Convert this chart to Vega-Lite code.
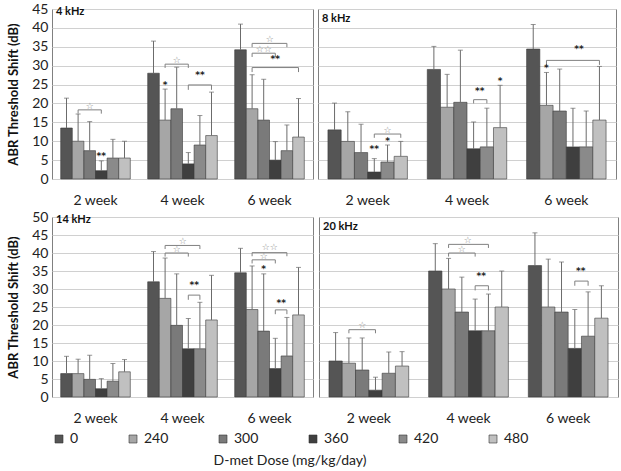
{
  "$schema": "https://vega.github.io/schema/vega-lite/v6.json",
  "padding": {"left": 7, "top": 1, "right": 5, "bottom": 5},
  "background": "white",
  "datasets": {
    "bars": [
      {"f": "4 kHz", "w": "2 week", "d": "0", "m": 13.5, "h": 21.4},
      {"f": "4 kHz", "w": "2 week", "d": "240", "m": 10.0, "h": 17.2},
      {"f": "4 kHz", "w": "2 week", "d": "300", "m": 7.5, "h": 15.2},
      {"f": "4 kHz", "w": "2 week", "d": "360", "m": 2.2, "h": 4.8},
      {"f": "4 kHz", "w": "2 week", "d": "420", "m": 5.55, "h": 10.5},
      {"f": "4 kHz", "w": "2 week", "d": "480", "m": 5.55, "h": 10.0},
      {"f": "4 kHz", "w": "4 week", "d": "0", "m": 28.0, "h": 36.5},
      {"f": "4 kHz", "w": "4 week", "d": "240", "m": 15.6, "h": 23.8},
      {"f": "4 kHz", "w": "4 week", "d": "300", "m": 18.6, "h": 29.6},
      {"f": "4 kHz", "w": "4 week", "d": "360", "m": 4.0, "h": 7.0},
      {"f": "4 kHz", "w": "4 week", "d": "420", "m": 9.0, "h": 16.8},
      {"f": "4 kHz", "w": "4 week", "d": "480", "m": 11.5, "h": 23.0},
      {"f": "4 kHz", "w": "6 week", "d": "0", "m": 34.2, "h": 41.0},
      {"f": "4 kHz", "w": "6 week", "d": "240", "m": 18.6, "h": 27.6},
      {"f": "4 kHz", "w": "6 week", "d": "300", "m": 15.6, "h": 26.4},
      {"f": "4 kHz", "w": "6 week", "d": "360", "m": 5.0, "h": 9.9},
      {"f": "4 kHz", "w": "6 week", "d": "420", "m": 7.5, "h": 14.3},
      {"f": "4 kHz", "w": "6 week", "d": "480", "m": 11.1, "h": 21.3},
      {"f": "8 kHz", "w": "2 week", "d": "0", "m": 13.0, "h": 20.1},
      {"f": "8 kHz", "w": "2 week", "d": "240", "m": 9.95, "h": 17.8},
      {"f": "8 kHz", "w": "2 week", "d": "300", "m": 7.0, "h": 14.5},
      {"f": "8 kHz", "w": "2 week", "d": "360", "m": 1.85, "h": 5.4},
      {"f": "8 kHz", "w": "2 week", "d": "420", "m": 4.5, "h": 9.0},
      {"f": "8 kHz", "w": "2 week", "d": "480", "m": 6.0, "h": 9.95},
      {"f": "8 kHz", "w": "4 week", "d": "0", "m": 29.0, "h": 35.1},
      {"f": "8 kHz", "w": "4 week", "d": "240", "m": 19.0, "h": 27.7},
      {"f": "8 kHz", "w": "4 week", "d": "300", "m": 20.3, "h": 34.1},
      {"f": "8 kHz", "w": "4 week", "d": "360", "m": 8.0, "h": 15.1},
      {"f": "8 kHz", "w": "4 week", "d": "420", "m": 8.5, "h": 18.75},
      {"f": "8 kHz", "w": "4 week", "d": "480", "m": 13.6, "h": 24.8},
      {"f": "8 kHz", "w": "6 week", "d": "0", "m": 34.4, "h": 40.9},
      {"f": "8 kHz", "w": "6 week", "d": "240", "m": 19.5, "h": 28.2},
      {"f": "8 kHz", "w": "6 week", "d": "300", "m": 18.0, "h": 29.1},
      {"f": "8 kHz", "w": "6 week", "d": "360", "m": 8.5, "h": 18.75},
      {"f": "8 kHz", "w": "6 week", "d": "420", "m": 8.5, "h": 18.0},
      {"f": "8 kHz", "w": "6 week", "d": "480", "m": 15.6, "h": 29.8},
      {"f": "14 kHz", "w": "2 week", "d": "0", "m": 6.5, "h": 11.3},
      {"f": "14 kHz", "w": "2 week", "d": "240", "m": 6.5, "h": 10.5},
      {"f": "14 kHz", "w": "2 week", "d": "300", "m": 4.9, "h": 11.6},
      {"f": "14 kHz", "w": "2 week", "d": "360", "m": 2.3, "h": 5.1},
      {"f": "14 kHz", "w": "2 week", "d": "420", "m": 4.4, "h": 9.3},
      {"f": "14 kHz", "w": "2 week", "d": "480", "m": 7.0, "h": 10.4},
      {"f": "14 kHz", "w": "4 week", "d": "0", "m": 32.0, "h": 40.4},
      {"f": "14 kHz", "w": "4 week", "d": "240", "m": 27.4, "h": 38.6},
      {"f": "14 kHz", "w": "4 week", "d": "300", "m": 19.9, "h": 34.2},
      {"f": "14 kHz", "w": "4 week", "d": "360", "m": 13.4, "h": 21.8},
      {"f": "14 kHz", "w": "4 week", "d": "420", "m": 13.4, "h": 26.3},
      {"f": "14 kHz", "w": "4 week", "d": "480", "m": 21.4, "h": 33.8},
      {"f": "14 kHz", "w": "6 week", "d": "0", "m": 34.5, "h": 41.3},
      {"f": "14 kHz", "w": "6 week", "d": "240", "m": 24.3, "h": 36.4},
      {"f": "14 kHz", "w": "6 week", "d": "300", "m": 18.3, "h": 34.2},
      {"f": "14 kHz", "w": "6 week", "d": "360", "m": 7.9, "h": 16.3},
      {"f": "14 kHz", "w": "6 week", "d": "420", "m": 11.4, "h": 22.1},
      {"f": "14 kHz", "w": "6 week", "d": "480", "m": 22.8, "h": 36.0},
      {"f": "20 kHz", "w": "2 week", "d": "0", "m": 10.0, "h": 17.9},
      {"f": "20 kHz", "w": "2 week", "d": "240", "m": 9.4, "h": 16.4},
      {"f": "20 kHz", "w": "2 week", "d": "300", "m": 7.5, "h": 16.4},
      {"f": "20 kHz", "w": "2 week", "d": "360", "m": 1.9, "h": 5.5},
      {"f": "20 kHz", "w": "2 week", "d": "420", "m": 6.6, "h": 12.5},
      {"f": "20 kHz", "w": "2 week", "d": "480", "m": 8.6, "h": 12.6},
      {"f": "20 kHz", "w": "4 week", "d": "0", "m": 35.0, "h": 42.6},
      {"f": "20 kHz", "w": "4 week", "d": "240", "m": 30.0, "h": 38.5},
      {"f": "20 kHz", "w": "4 week", "d": "300", "m": 23.6, "h": 33.3},
      {"f": "20 kHz", "w": "4 week", "d": "360", "m": 18.4, "h": 27.2},
      {"f": "20 kHz", "w": "4 week", "d": "420", "m": 18.4, "h": 28.6},
      {"f": "20 kHz", "w": "4 week", "d": "480", "m": 25.0, "h": 35.0},
      {"f": "20 kHz", "w": "6 week", "d": "0", "m": 36.5, "h": 45.6},
      {"f": "20 kHz", "w": "6 week", "d": "240", "m": 25.0, "h": 38.3},
      {"f": "20 kHz", "w": "6 week", "d": "300", "m": 23.6, "h": 37.5},
      {"f": "20 kHz", "w": "6 week", "d": "360", "m": 13.5, "h": 24.3},
      {"f": "20 kHz", "w": "6 week", "d": "420", "m": 16.9, "h": 29.2},
      {"f": "20 kHz", "w": "6 week", "d": "480", "m": 21.9, "h": 30.9}
    ],
    "br": [
      {"f": "4 kHz", "w": "2 week", "id": "A", "o": 1, "d": "240", "y": 17.3},
      {"f": "4 kHz", "w": "2 week", "id": "A", "o": 2, "d": "240", "y": 18.3},
      {"f": "4 kHz", "w": "2 week", "id": "A", "o": 3, "d": "360", "y": 18.3},
      {"f": "4 kHz", "w": "2 week", "id": "A", "o": 4, "d": "360", "y": 17.3},
      {"f": "4 kHz", "w": "4 week", "id": "B", "o": 1, "d": "240", "y": 29.4},
      {"f": "4 kHz", "w": "4 week", "id": "B", "o": 2, "d": "240", "y": 30.4},
      {"f": "4 kHz", "w": "4 week", "id": "B", "o": 3, "d": "360", "y": 30.4},
      {"f": "4 kHz", "w": "4 week", "id": "B", "o": 4, "d": "360", "y": 29.4},
      {"f": "4 kHz", "w": "4 week", "id": "C", "o": 1, "d": "360", "y": 23.6},
      {"f": "4 kHz", "w": "4 week", "id": "C", "o": 2, "d": "360", "y": 24.9},
      {"f": "4 kHz", "w": "4 week", "id": "C", "o": 3, "d": "480", "y": 24.9},
      {"f": "4 kHz", "w": "4 week", "id": "C", "o": 4, "d": "480", "y": 23.6},
      {"f": "4 kHz", "w": "6 week", "id": "D", "o": 1, "d": "240", "y": 34.9},
      {"f": "4 kHz", "w": "6 week", "id": "D", "o": 2, "d": "240", "y": 35.9},
      {"f": "4 kHz", "w": "6 week", "id": "D", "o": 3, "d": "420", "y": 35.9},
      {"f": "4 kHz", "w": "6 week", "id": "D", "o": 4, "d": "420", "y": 34.9},
      {"f": "4 kHz", "w": "6 week", "id": "E", "o": 1, "d": "240", "y": 32.3},
      {"f": "4 kHz", "w": "6 week", "id": "E", "o": 2, "d": "240", "y": 33.3},
      {"f": "4 kHz", "w": "6 week", "id": "E", "o": 3, "d": "360", "y": 33.3},
      {"f": "4 kHz", "w": "6 week", "id": "E", "o": 4, "d": "360", "y": 32.3},
      {"f": "4 kHz", "w": "6 week", "id": "F", "o": 1, "d": "240", "y": 28.3},
      {"f": "4 kHz", "w": "6 week", "id": "F", "o": 2, "d": "240", "y": 29.5},
      {"f": "4 kHz", "w": "6 week", "id": "F", "o": 3, "d": "480", "y": 29.5},
      {"f": "4 kHz", "w": "6 week", "id": "F", "o": 4, "d": "480", "y": 28.3},
      {"f": "8 kHz", "w": "2 week", "id": "G", "o": 1, "d": "360", "y": 10.9},
      {"f": "8 kHz", "w": "2 week", "id": "G", "o": 2, "d": "360", "y": 11.9},
      {"f": "8 kHz", "w": "2 week", "id": "G", "o": 3, "d": "480", "y": 11.9},
      {"f": "8 kHz", "w": "2 week", "id": "G", "o": 4, "d": "480", "y": 10.9},
      {"f": "8 kHz", "w": "4 week", "id": "H", "o": 1, "d": "360", "y": 20.0},
      {"f": "8 kHz", "w": "4 week", "id": "H", "o": 2, "d": "360", "y": 21.0},
      {"f": "8 kHz", "w": "4 week", "id": "H", "o": 3, "d": "420", "y": 21.0},
      {"f": "8 kHz", "w": "4 week", "id": "H", "o": 4, "d": "420", "y": 20.0},
      {"f": "8 kHz", "w": "6 week", "id": "I", "o": 1, "d": "240", "y": 30.2},
      {"f": "8 kHz", "w": "6 week", "id": "I", "o": 2, "d": "240", "y": 31.4},
      {"f": "8 kHz", "w": "6 week", "id": "I", "o": 3, "d": "480", "y": 31.4},
      {"f": "8 kHz", "w": "6 week", "id": "I", "o": 4, "d": "480", "y": 30.2},
      {"f": "14 kHz", "w": "4 week", "id": "J", "o": 1, "d": "240", "y": 41.1},
      {"f": "14 kHz", "w": "4 week", "id": "J", "o": 2, "d": "240", "y": 42.1},
      {"f": "14 kHz", "w": "4 week", "id": "J", "o": 3, "d": "420", "y": 42.1},
      {"f": "14 kHz", "w": "4 week", "id": "J", "o": 4, "d": "420", "y": 41.1},
      {"f": "14 kHz", "w": "4 week", "id": "K", "o": 1, "d": "240", "y": 39.0},
      {"f": "14 kHz", "w": "4 week", "id": "K", "o": 2, "d": "240", "y": 40.0},
      {"f": "14 kHz", "w": "4 week", "id": "K", "o": 3, "d": "360", "y": 40.0},
      {"f": "14 kHz", "w": "4 week", "id": "K", "o": 4, "d": "360", "y": 39.0},
      {"f": "14 kHz", "w": "4 week", "id": "L", "o": 1, "d": "360", "y": 27.0},
      {"f": "14 kHz", "w": "4 week", "id": "L", "o": 2, "d": "360", "y": 28.3},
      {"f": "14 kHz", "w": "4 week", "id": "L", "o": 3, "d": "420", "y": 28.3},
      {"f": "14 kHz", "w": "4 week", "id": "L", "o": 4, "d": "420", "y": 27.0},
      {"f": "14 kHz", "w": "6 week", "id": "M", "o": 1, "d": "240", "y": 39.1},
      {"f": "14 kHz", "w": "6 week", "id": "M", "o": 2, "d": "240", "y": 40.1},
      {"f": "14 kHz", "w": "6 week", "id": "M", "o": 3, "d": "420", "y": 40.1},
      {"f": "14 kHz", "w": "6 week", "id": "M", "o": 4, "d": "420", "y": 39.1},
      {"f": "14 kHz", "w": "6 week", "id": "N", "o": 1, "d": "240", "y": 37.1},
      {"f": "14 kHz", "w": "6 week", "id": "N", "o": 2, "d": "240", "y": 38.1},
      {"f": "14 kHz", "w": "6 week", "id": "N", "o": 3, "d": "360", "y": 38.1},
      {"f": "14 kHz", "w": "6 week", "id": "N", "o": 4, "d": "360", "y": 37.1},
      {"f": "14 kHz", "w": "6 week", "id": "O", "o": 1, "d": "360", "y": 23.0},
      {"f": "14 kHz", "w": "6 week", "id": "O", "o": 2, "d": "360", "y": 24.2},
      {"f": "14 kHz", "w": "6 week", "id": "O", "o": 3, "d": "420", "y": 24.2},
      {"f": "14 kHz", "w": "6 week", "id": "O", "o": 4, "d": "420", "y": 23.0},
      {"f": "20 kHz", "w": "2 week", "id": "P", "o": 1, "d": "240", "y": 17.7},
      {"f": "20 kHz", "w": "2 week", "id": "P", "o": 2, "d": "240", "y": 18.7},
      {"f": "20 kHz", "w": "2 week", "id": "P", "o": 3, "d": "360", "y": 18.7},
      {"f": "20 kHz", "w": "2 week", "id": "P", "o": 4, "d": "360", "y": 17.7},
      {"f": "20 kHz", "w": "4 week", "id": "Q", "o": 1, "d": "240", "y": 41.4},
      {"f": "20 kHz", "w": "4 week", "id": "Q", "o": 2, "d": "240", "y": 42.4},
      {"f": "20 kHz", "w": "4 week", "id": "Q", "o": 3, "d": "420", "y": 42.4},
      {"f": "20 kHz", "w": "4 week", "id": "Q", "o": 4, "d": "420", "y": 41.4},
      {"f": "20 kHz", "w": "4 week", "id": "R", "o": 1, "d": "240", "y": 39.0},
      {"f": "20 kHz", "w": "4 week", "id": "R", "o": 2, "d": "240", "y": 40.0},
      {"f": "20 kHz", "w": "4 week", "id": "R", "o": 3, "d": "360", "y": 40.0},
      {"f": "20 kHz", "w": "4 week", "id": "R", "o": 4, "d": "360", "y": 39.0},
      {"f": "20 kHz", "w": "4 week", "id": "S", "o": 1, "d": "360", "y": 29.6},
      {"f": "20 kHz", "w": "4 week", "id": "S", "o": 2, "d": "360", "y": 30.9},
      {"f": "20 kHz", "w": "4 week", "id": "S", "o": 3, "d": "420", "y": 30.9},
      {"f": "20 kHz", "w": "4 week", "id": "S", "o": 4, "d": "420", "y": 29.6},
      {"f": "20 kHz", "w": "6 week", "id": "T", "o": 1, "d": "360", "y": 30.9},
      {"f": "20 kHz", "w": "6 week", "id": "T", "o": 2, "d": "360", "y": 32.2},
      {"f": "20 kHz", "w": "6 week", "id": "T", "o": 3, "d": "420", "y": 32.2},
      {"f": "20 kHz", "w": "6 week", "id": "T", "o": 4, "d": "420", "y": 30.9}
    ],
    "st": [
      {"f": "4 kHz", "w": "2 week", "d": "300", "y": 19.4, "s": "☆", "b": false},
      {"f": "4 kHz", "w": "2 week", "d": "360", "y": 6.0, "s": "**", "b": false},
      {"f": "4 kHz", "w": "4 week", "d": "240", "y": 25.0, "s": "*", "b": false},
      {"f": "4 kHz", "w": "4 week", "d": "300", "y": 31.4, "s": "☆", "b": false},
      {"f": "4 kHz", "w": "4 week", "d": "420", "y": 27.6, "s": "**", "b": false},
      {"f": "4 kHz", "w": "6 week", "d": "300", "y": 37.1, "s": "☆", "b": true},
      {"f": "4 kHz", "w": "6 week", "d": "300", "y": 34.4, "s": "☆☆", "b": false},
      {"f": "4 kHz", "w": "6 week", "d": "360", "y": 31.8, "s": "**", "b": false},
      {"f": "8 kHz", "w": "2 week", "d": "360", "y": 8.0, "s": "**", "b": false},
      {"f": "8 kHz", "w": "2 week", "d": "420", "y": 10.0, "s": "*", "b": false},
      {"f": "8 kHz", "w": "2 week", "d": "420", "y": 13.0, "s": "☆", "b": false},
      {"f": "8 kHz", "w": "4 week", "d": "360", "y": 23.4, "s": "**", "b": true},
      {"f": "8 kHz", "w": "4 week", "d": "480", "y": 26.0, "s": "*", "b": false},
      {"f": "8 kHz", "w": "6 week", "d": "240", "y": 29.5, "s": "*", "b": false},
      {"f": "8 kHz", "w": "6 week", "d": "360", "y": 34.3, "s": "**", "b": true},
      {"f": "14 kHz", "w": "4 week", "d": "300", "y": 43.4, "s": "☆", "b": true},
      {"f": "14 kHz", "w": "4 week", "d": "300", "y": 41.0, "s": "☆", "b": false},
      {"f": "14 kHz", "w": "4 week", "d": "360", "y": 31.0, "s": "**", "b": true},
      {"f": "14 kHz", "w": "6 week", "d": "300", "y": 41.6, "s": "☆☆", "b": true},
      {"f": "14 kHz", "w": "6 week", "d": "300", "y": 39.2, "s": "☆", "b": false},
      {"f": "14 kHz", "w": "6 week", "d": "300", "y": 35.5, "s": "*", "b": false},
      {"f": "14 kHz", "w": "6 week", "d": "360", "y": 26.0, "s": "**", "b": true},
      {"f": "20 kHz", "w": "2 week", "d": "300", "y": 19.9, "s": "☆", "b": false},
      {"f": "20 kHz", "w": "4 week", "d": "300", "y": 43.5, "s": "☆", "b": true},
      {"f": "20 kHz", "w": "4 week", "d": "300", "y": 41.0, "s": "☆", "b": false},
      {"f": "20 kHz", "w": "4 week", "d": "360", "y": 33.7, "s": "**", "b": true},
      {"f": "20 kHz", "w": "6 week", "d": "360", "y": 34.9, "s": "**", "b": true}
    ]
  },
  "config": {
    "font": "Lato",
    "view": {"stroke": "#808080", "strokeWidth": 1},
    "axis": {"labelFont": "Lato", "labelFontSize": 14, "labelColor": "#222222", "titleFont": "Lato", "gridColor": "#d0d0d0", "domain": false, "ticks": false},
    "axisY": {"grid": true, "titleFontSize": 13, "titleFontWeight": "bold", "titleColor": "#111111", "labelPadding": 4, "titlePadding": 11},
    "legend": {"orient": "bottom", "direction": "horizontal", "symbolType": "square", "symbolSize": 64, "symbolStrokeColor": "#333333", "symbolStrokeWidth": 0.6, "labelFont": "Lato", "labelFontSize": 14, "labelColor": "#222222", "titleOrient": "bottom", "titleAnchor": "middle", "titleFont": "Lato", "titleFontSize": 14, "titleFontWeight": "normal", "titleColor": "#222222", "titlePadding": 8, "offset": 6},
    "title": {"anchor": "start", "frame": "group", "font": "Lato", "fontSize": 11, "fontWeight": "bold", "color": "#111111", "offset": -15, "dx": 4}
  },
  "resolve": {"scale": {"xOffset": "independent"}},
  "spacing": 1,
  "vconcat": [
    {
      "resolve": {"scale": {"xOffset": "independent"}},
      "spacing": 3,
      "hconcat": [
        {
          "width": 261, "height": 170,
          "title": {"text": "4 kHz"},
          "encoding": {
            "x": {"field": "w", "type": "nominal", "title": null, "scale": {"paddingInner": 0.2, "paddingOuter": 0.1}, "axis": {"labelAngle": 0, "labelPadding": 14}},
            "xOffset": {"field": "d", "type": "nominal", "scale": {"domain": ["0", "240", "300", "360", "420", "480"]}}
          },
          "layer": [
            {"data": {"name": "bars"}, "transform": [{"filter": "datum.f == '4 kHz'"}],
             "mark": {"type": "bar", "stroke": "#3a3a3a", "strokeWidth": 0.6},
             "encoding": {
               "y": {"field": "m", "type": "quantitative", "scale": {"domain": [0, 45], "nice": false}, "axis": {"values": [0,5,10,15,20,25,30,35,40,45], "title": "ABR Threshold Shift (dB)"}},
               "color": {"field": "d", "type": "nominal", "title": "D-met Dose (mg/kg/day)", "scale": {"domain": ["0", "240", "300", "360", "420", "480"], "range": ["#555555", "#a6a6a6", "#7a7a7a", "#3f3f3f", "#8a8a8a", "#c0c0c0"]}, "legend": {"columns": 6, "gridAlign": "each", "columnPadding": 47}}
             }},
            {"data": {"name": "bars"}, "transform": [{"filter": "datum.f == '4 kHz'"}],
             "mark": {"type": "rule", "color": "#6b6b6b", "strokeWidth": 1},
             "encoding": {"y": {"field": "m", "type": "quantitative", "axis": {"values": [0,5,10,15,20,25,30,35,40,45], "title": "ABR Threshold Shift (dB)"}}, "y2": {"field": "h"}}},
            {"data": {"name": "bars"}, "transform": [{"filter": "datum.f == '4 kHz'"}],
             "mark": {"type": "tick", "color": "#6b6b6b", "size": 5, "thickness": 1, "orient": "horizontal"},
             "encoding": {"y": {"field": "h", "type": "quantitative", "axis": {"values": [0,5,10,15,20,25,30,35,40,45], "title": "ABR Threshold Shift (dB)"}}}},
            {"data": {"name": "br"}, "transform": [{"filter": "datum.f == '4 kHz'"}],
             "mark": {"type": "line", "color": "#808080", "strokeWidth": 1},
             "encoding": {"y": {"field": "y", "type": "quantitative", "axis": {"values": [0,5,10,15,20,25,30,35,40,45], "title": "ABR Threshold Shift (dB)"}}, "detail": {"field": "id"}, "order": {"field": "o"}}},
            {"data": {"name": "st"}, "transform": [{"filter": "datum.f == '4 kHz' && !datum.b"}],
             "mark": {"type": "text", "font": "DejaVu Sans", "fontSize": 9, "fontWeight": "bold", "baseline": "middle"},
             "encoding": {"y": {"field": "y", "type": "quantitative", "axis": {"values": [0,5,10,15,20,25,30,35,40,45], "title": "ABR Threshold Shift (dB)"}}, "text": {"field": "s"}, "color": {"condition": {"test": "datum.s == '*' || datum.s == '**'", "value": "#222222"}, "value": "#8a8a8a"}}},
            {"data": {"name": "st"}, "transform": [{"filter": "datum.f == '4 kHz' && datum.b"}],
             "mark": {"type": "text", "font": "DejaVu Sans", "fontSize": 9, "fontWeight": "bold", "baseline": "middle", "dx": 6},
             "encoding": {"y": {"field": "y", "type": "quantitative", "axis": {"values": [0,5,10,15,20,25,30,35,40,45], "title": "ABR Threshold Shift (dB)"}}, "text": {"field": "s"}, "color": {"condition": {"test": "datum.s == '*' || datum.s == '**'", "value": "#222222"}, "value": "#8a8a8a"}}}
          ]
        },
        {
          "width": 298, "height": 170,
          "title": {"text": "8 kHz"},
          "encoding": {
            "x": {"field": "w", "type": "nominal", "title": null, "scale": {"paddingInner": 0.2, "paddingOuter": 0.1}, "axis": {"labelAngle": 0, "labelPadding": 14}},
            "xOffset": {"field": "d", "type": "nominal", "scale": {"domain": ["0", "240", "300", "360", "420", "480"]}}
          },
          "layer": [
            {"data": {"name": "bars"}, "transform": [{"filter": "datum.f == '8 kHz'"}],
             "mark": {"type": "bar", "stroke": "#3a3a3a", "strokeWidth": 0.6},
             "encoding": {
               "y": {"field": "m", "type": "quantitative", "scale": {"domain": [0, 45], "nice": false}, "axis": {"values": [0,5,10,15,20,25,30,35,40,45], "title": null, "labels": false}},
               "color": {"field": "d", "type": "nominal", "title": "D-met Dose (mg/kg/day)", "scale": {"domain": ["0", "240", "300", "360", "420", "480"], "range": ["#555555", "#a6a6a6", "#7a7a7a", "#3f3f3f", "#8a8a8a", "#c0c0c0"]}, "legend": {"columns": 6, "gridAlign": "each", "columnPadding": 47}}
             }},
            {"data": {"name": "bars"}, "transform": [{"filter": "datum.f == '8 kHz'"}],
             "mark": {"type": "rule", "color": "#6b6b6b", "strokeWidth": 1},
             "encoding": {"y": {"field": "m", "type": "quantitative", "axis": {"values": [0,5,10,15,20,25,30,35,40,45], "title": null, "labels": false}}, "y2": {"field": "h"}}},
            {"data": {"name": "bars"}, "transform": [{"filter": "datum.f == '8 kHz'"}],
             "mark": {"type": "tick", "color": "#6b6b6b", "size": 5, "thickness": 1, "orient": "horizontal"},
             "encoding": {"y": {"field": "h", "type": "quantitative", "axis": {"values": [0,5,10,15,20,25,30,35,40,45], "title": null, "labels": false}}}},
            {"data": {"name": "br"}, "transform": [{"filter": "datum.f == '8 kHz'"}],
             "mark": {"type": "line", "color": "#808080", "strokeWidth": 1},
             "encoding": {"y": {"field": "y", "type": "quantitative", "axis": {"values": [0,5,10,15,20,25,30,35,40,45], "title": null, "labels": false}}, "detail": {"field": "id"}, "order": {"field": "o"}}},
            {"data": {"name": "st"}, "transform": [{"filter": "datum.f == '8 kHz' && !datum.b"}],
             "mark": {"type": "text", "font": "DejaVu Sans", "fontSize": 9, "fontWeight": "bold", "baseline": "middle"},
             "encoding": {"y": {"field": "y", "type": "quantitative", "axis": {"values": [0,5,10,15,20,25,30,35,40,45], "title": null, "labels": false}}, "text": {"field": "s"}, "color": {"condition": {"test": "datum.s == '*' || datum.s == '**'", "value": "#222222"}, "value": "#8a8a8a"}}},
            {"data": {"name": "st"}, "transform": [{"filter": "datum.f == '8 kHz' && datum.b"}],
             "mark": {"type": "text", "font": "DejaVu Sans", "fontSize": 9, "fontWeight": "bold", "baseline": "middle", "dx": 6},
             "encoding": {"y": {"field": "y", "type": "quantitative", "axis": {"values": [0,5,10,15,20,25,30,35,40,45], "title": null, "labels": false}}, "text": {"field": "s"}, "color": {"condition": {"test": "datum.s == '*' || datum.s == '**'", "value": "#222222"}, "value": "#8a8a8a"}}}
          ]
        }
      ]
    },
    {
      "resolve": {"scale": {"xOffset": "independent"}},
      "spacing": 4,
      "hconcat": [
        {
          "width": 261, "height": 180,
          "title": {"text": "14 kHz"},
          "encoding": {
            "x": {"field": "w", "type": "nominal", "title": null, "scale": {"paddingInner": 0.2, "paddingOuter": 0.1}, "axis": {"labelAngle": 0, "labelPadding": 14}},
            "xOffset": {"field": "d", "type": "nominal", "scale": {"domain": ["0", "240", "300", "360", "420", "480"]}}
          },
          "layer": [
            {"data": {"name": "bars"}, "transform": [{"filter": "datum.f == '14 kHz'"}],
             "mark": {"type": "bar", "stroke": "#3a3a3a", "strokeWidth": 0.6},
             "encoding": {
               "y": {"field": "m", "type": "quantitative", "scale": {"domain": [0, 50], "nice": false}, "axis": {"values": [0,5,10,15,20,25,30,35,40,45,50], "title": "ABR Threshold Shift (dB)"}},
               "color": {"field": "d", "type": "nominal", "title": "D-met Dose (mg/kg/day)", "scale": {"domain": ["0", "240", "300", "360", "420", "480"], "range": ["#555555", "#a6a6a6", "#7a7a7a", "#3f3f3f", "#8a8a8a", "#c0c0c0"]}, "legend": {"columns": 6, "gridAlign": "each", "columnPadding": 47}}
             }},
            {"data": {"name": "bars"}, "transform": [{"filter": "datum.f == '14 kHz'"}],
             "mark": {"type": "rule", "color": "#6b6b6b", "strokeWidth": 1},
             "encoding": {"y": {"field": "m", "type": "quantitative", "axis": {"values": [0,5,10,15,20,25,30,35,40,45,50], "title": "ABR Threshold Shift (dB)"}}, "y2": {"field": "h"}}},
            {"data": {"name": "bars"}, "transform": [{"filter": "datum.f == '14 kHz'"}],
             "mark": {"type": "tick", "color": "#6b6b6b", "size": 5, "thickness": 1, "orient": "horizontal"},
             "encoding": {"y": {"field": "h", "type": "quantitative", "axis": {"values": [0,5,10,15,20,25,30,35,40,45,50], "title": "ABR Threshold Shift (dB)"}}}},
            {"data": {"name": "br"}, "transform": [{"filter": "datum.f == '14 kHz'"}],
             "mark": {"type": "line", "color": "#808080", "strokeWidth": 1},
             "encoding": {"y": {"field": "y", "type": "quantitative", "axis": {"values": [0,5,10,15,20,25,30,35,40,45,50], "title": "ABR Threshold Shift (dB)"}}, "detail": {"field": "id"}, "order": {"field": "o"}}},
            {"data": {"name": "st"}, "transform": [{"filter": "datum.f == '14 kHz' && !datum.b"}],
             "mark": {"type": "text", "font": "DejaVu Sans", "fontSize": 9, "fontWeight": "bold", "baseline": "middle"},
             "encoding": {"y": {"field": "y", "type": "quantitative", "axis": {"values": [0,5,10,15,20,25,30,35,40,45,50], "title": "ABR Threshold Shift (dB)"}}, "text": {"field": "s"}, "color": {"condition": {"test": "datum.s == '*' || datum.s == '**'", "value": "#222222"}, "value": "#8a8a8a"}}},
            {"data": {"name": "st"}, "transform": [{"filter": "datum.f == '14 kHz' && datum.b"}],
             "mark": {"type": "text", "font": "DejaVu Sans", "fontSize": 9, "fontWeight": "bold", "baseline": "middle", "dx": 6},
             "encoding": {"y": {"field": "y", "type": "quantitative", "axis": {"values": [0,5,10,15,20,25,30,35,40,45,50], "title": "ABR Threshold Shift (dB)"}}, "text": {"field": "s"}, "color": {"condition": {"test": "datum.s == '*' || datum.s == '**'", "value": "#222222"}, "value": "#8a8a8a"}}}
          ]
        },
        {
          "width": 299, "height": 180,
          "title": {"text": "20 kHz"},
          "encoding": {
            "x": {"field": "w", "type": "nominal", "title": null, "scale": {"paddingInner": 0.2, "paddingOuter": 0.1}, "axis": {"labelAngle": 0, "labelPadding": 14}},
            "xOffset": {"field": "d", "type": "nominal", "scale": {"domain": ["0", "240", "300", "360", "420", "480"]}}
          },
          "layer": [
            {"data": {"name": "bars"}, "transform": [{"filter": "datum.f == '20 kHz'"}],
             "mark": {"type": "bar", "stroke": "#3a3a3a", "strokeWidth": 0.6},
             "encoding": {
               "y": {"field": "m", "type": "quantitative", "scale": {"domain": [0, 50], "nice": false}, "axis": {"values": [0,5,10,15,20,25,30,35,40,45,50], "title": null, "labels": false}},
               "color": {"field": "d", "type": "nominal", "title": "D-met Dose (mg/kg/day)", "scale": {"domain": ["0", "240", "300", "360", "420", "480"], "range": ["#555555", "#a6a6a6", "#7a7a7a", "#3f3f3f", "#8a8a8a", "#c0c0c0"]}, "legend": {"columns": 6, "gridAlign": "each", "columnPadding": 47}}
             }},
            {"data": {"name": "bars"}, "transform": [{"filter": "datum.f == '20 kHz'"}],
             "mark": {"type": "rule", "color": "#6b6b6b", "strokeWidth": 1},
             "encoding": {"y": {"field": "m", "type": "quantitative", "axis": {"values": [0,5,10,15,20,25,30,35,40,45,50], "title": null, "labels": false}}, "y2": {"field": "h"}}},
            {"data": {"name": "bars"}, "transform": [{"filter": "datum.f == '20 kHz'"}],
             "mark": {"type": "tick", "color": "#6b6b6b", "size": 5, "thickness": 1, "orient": "horizontal"},
             "encoding": {"y": {"field": "h", "type": "quantitative", "axis": {"values": [0,5,10,15,20,25,30,35,40,45,50], "title": null, "labels": false}}}},
            {"data": {"name": "br"}, "transform": [{"filter": "datum.f == '20 kHz'"}],
             "mark": {"type": "line", "color": "#808080", "strokeWidth": 1},
             "encoding": {"y": {"field": "y", "type": "quantitative", "axis": {"values": [0,5,10,15,20,25,30,35,40,45,50], "title": null, "labels": false}}, "detail": {"field": "id"}, "order": {"field": "o"}}},
            {"data": {"name": "st"}, "transform": [{"filter": "datum.f == '20 kHz' && !datum.b"}],
             "mark": {"type": "text", "font": "DejaVu Sans", "fontSize": 9, "fontWeight": "bold", "baseline": "middle"},
             "encoding": {"y": {"field": "y", "type": "quantitative", "axis": {"values": [0,5,10,15,20,25,30,35,40,45,50], "title": null, "labels": false}}, "text": {"field": "s"}, "color": {"condition": {"test": "datum.s == '*' || datum.s == '**'", "value": "#222222"}, "value": "#8a8a8a"}}},
            {"data": {"name": "st"}, "transform": [{"filter": "datum.f == '20 kHz' && datum.b"}],
             "mark": {"type": "text", "font": "DejaVu Sans", "fontSize": 9, "fontWeight": "bold", "baseline": "middle", "dx": 6},
             "encoding": {"y": {"field": "y", "type": "quantitative", "axis": {"values": [0,5,10,15,20,25,30,35,40,45,50], "title": null, "labels": false}}, "text": {"field": "s"}, "color": {"condition": {"test": "datum.s == '*' || datum.s == '**'", "value": "#222222"}, "value": "#8a8a8a"}}}
          ]
        }
      ]
    }
  ]
}
